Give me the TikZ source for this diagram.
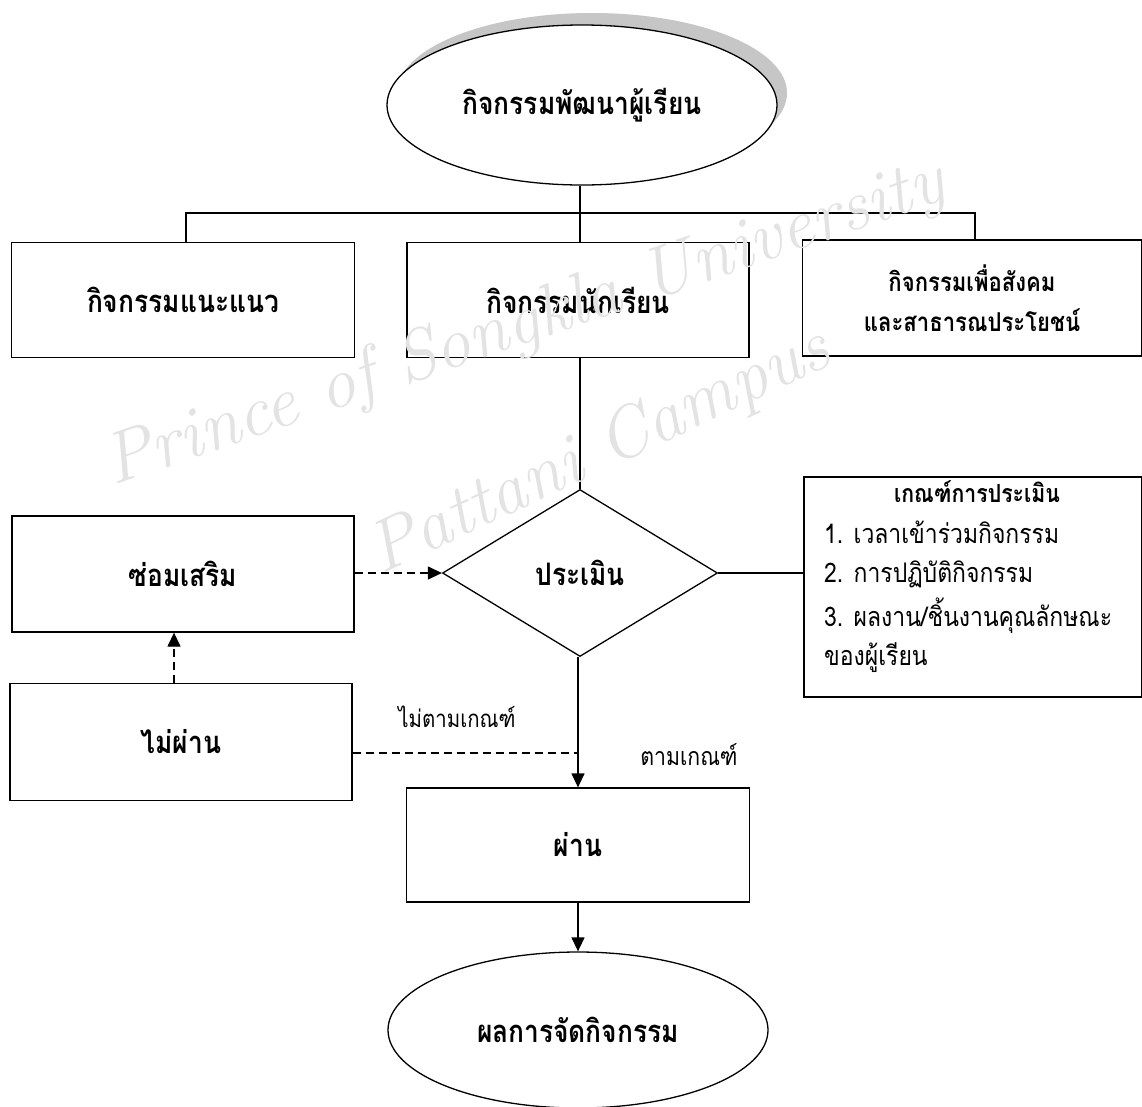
\documentclass[tikz,border=0pt]{standalone}
\usepackage{fontspec}
\setmainfont[Script=Thai, FakeStretch=0.85]{Loma}
\newfontfamily\wmfont{Latin Modern Roman}
\usetikzlibrary{arrows.meta,shapes.geometric}
\tikzset{
  box/.style={draw, line width=1.3pt, fill=white, inner sep=0pt, align=center, font=\bfseries\fontsize{31}{36}\selectfont},
  oval/.style={draw, ellipse, line width=1.3pt, fill=white, inner sep=0pt, font=\bfseries\fontsize{31}{36}\selectfont},
  conn/.style={line width=1.3pt},
  dconn/.style={line width=1.3pt, dash pattern=on 8pt off 5pt},
  tip/.style={-{Triangle[width=13pt,length=14pt]}},
  lbl/.style={font=\fontsize{27}{30}\selectfont, inner sep=0pt},
  wm/.style={text=gray!22, font=\wmfont\itshape\fontsize{72}{74}\selectfont, inner sep=0pt}
}
\begin{document}
\begin{tikzpicture}[x=1pt,y=-1pt]
\useasboundingbox (0,0) rectangle (1142,1106);
\fill[white] (0,0) rectangle (1142,1106);
% top ellipse with shadow
\fill[gray!45] (592,93) ellipse [x radius=195, y radius=80];
\node[oval, minimum width=390, minimum height=160] (top) at (582,105) {กิจกรรมพัฒนาผู้เรียน};
% second row
\node[box, minimum width=343, minimum height=115] (guide) at (183,300) {กิจกรรมแนะแนว};
\node[box, minimum width=342, minimum height=115] (stud) at (578,300) {กิจกรรมนักเรียน};
\node[box, minimum width=339, minimum height=116, font=\bfseries\fontsize{26}{40}\selectfont] (soc) at (972,298) {กิจกรรมเพื่อสังคม\\และสาธารณประโยชน์};
\coordinate (J) at (580,213);
\draw[conn] (top.south -| J) -- (J);
\draw[conn] (guide.north -| 186,0) -- (186,213) -- (975,213) -- (soc.north -| 975,0);
\draw[conn] (J) -- (stud.north -| J);
% diamond
\node[draw, diamond, aspect=1.65, minimum width=275, minimum height=167, inner sep=0pt, line width=1.3pt, fill=white, font=\bfseries\fontsize{31}{36}\selectfont] (eval) at (580,573) {ประเมิน};
\draw[conn] (stud.south -| eval) -- (eval.north);
% criteria box
\node[draw, line width=1.3pt, fill=white, minimum width=338, minimum height=220, inner sep=0pt] (crit) at (973,587) {};
\node[font=\bfseries\fontsize{25}{30}\selectfont, inner sep=0pt] (crith) at (977,492) {เกณฑ์การประเมิน};
\node[lbl, anchor=west] (c1) at (824,532) {1. เวลาเข้าร่วมกิจกรรม};
\node[lbl, anchor=west] (c2) at (824,574) {2. การปฏิบัติกิจกรรม};
\node[lbl, anchor=west] (c3) at (824,616) {3. ผลงาน/ชิ้นงานคุณลักษณะ};
\node[lbl, anchor=west] (c4) at (824,658) {ของผู้เรียน};
\draw[conn] (eval.east) -- (crit.west |- eval.east);
% left boxes
\node[box, minimum width=342, minimum height=116] (fix) at (183,574) {ซ่อมเสริม};
\node[box, minimum width=342, minimum height=117] (fail) at (181,742) {ไม่ผ่าน};
\draw[dconn, tip] (fix.east |- eval.west) -- (eval.west);
\draw[dconn, tip] (fail.north -| 174,0) -- (fix.south -| 174,0);
% pass
\node[box, minimum width=343, minimum height=114] (pass) at (578,845) {ผ่าน};
\coordinate (M) at (578,753);
\draw[conn, tip] (eval.south -| pass) -- (pass.north);
\draw[dconn] (fail.east |- M) -- (M);
\node[lbl, font=\fontsize{24}{30}\selectfont] (nl) at (457,717) {ไม่ตามเกณฑ์};
\node[lbl, font=\fontsize{25}{30}\selectfont] (yl) at (689,755) {ตามเกณฑ์};
% bottom ellipse
\node[oval, minimum width=380, minimum height=156] (res) at (578,1030) {ผลการจัดกิจกรรม};
\draw[conn, tip] (pass.south) -- (res.north);
% watermark
\node[wm, rotate=19] (wm1) at (525,325) {Prince of Songkla University};
\node[wm, rotate=25] (wm2) at (600,452) {Pattani Campus};
\end{tikzpicture}
\end{document}
